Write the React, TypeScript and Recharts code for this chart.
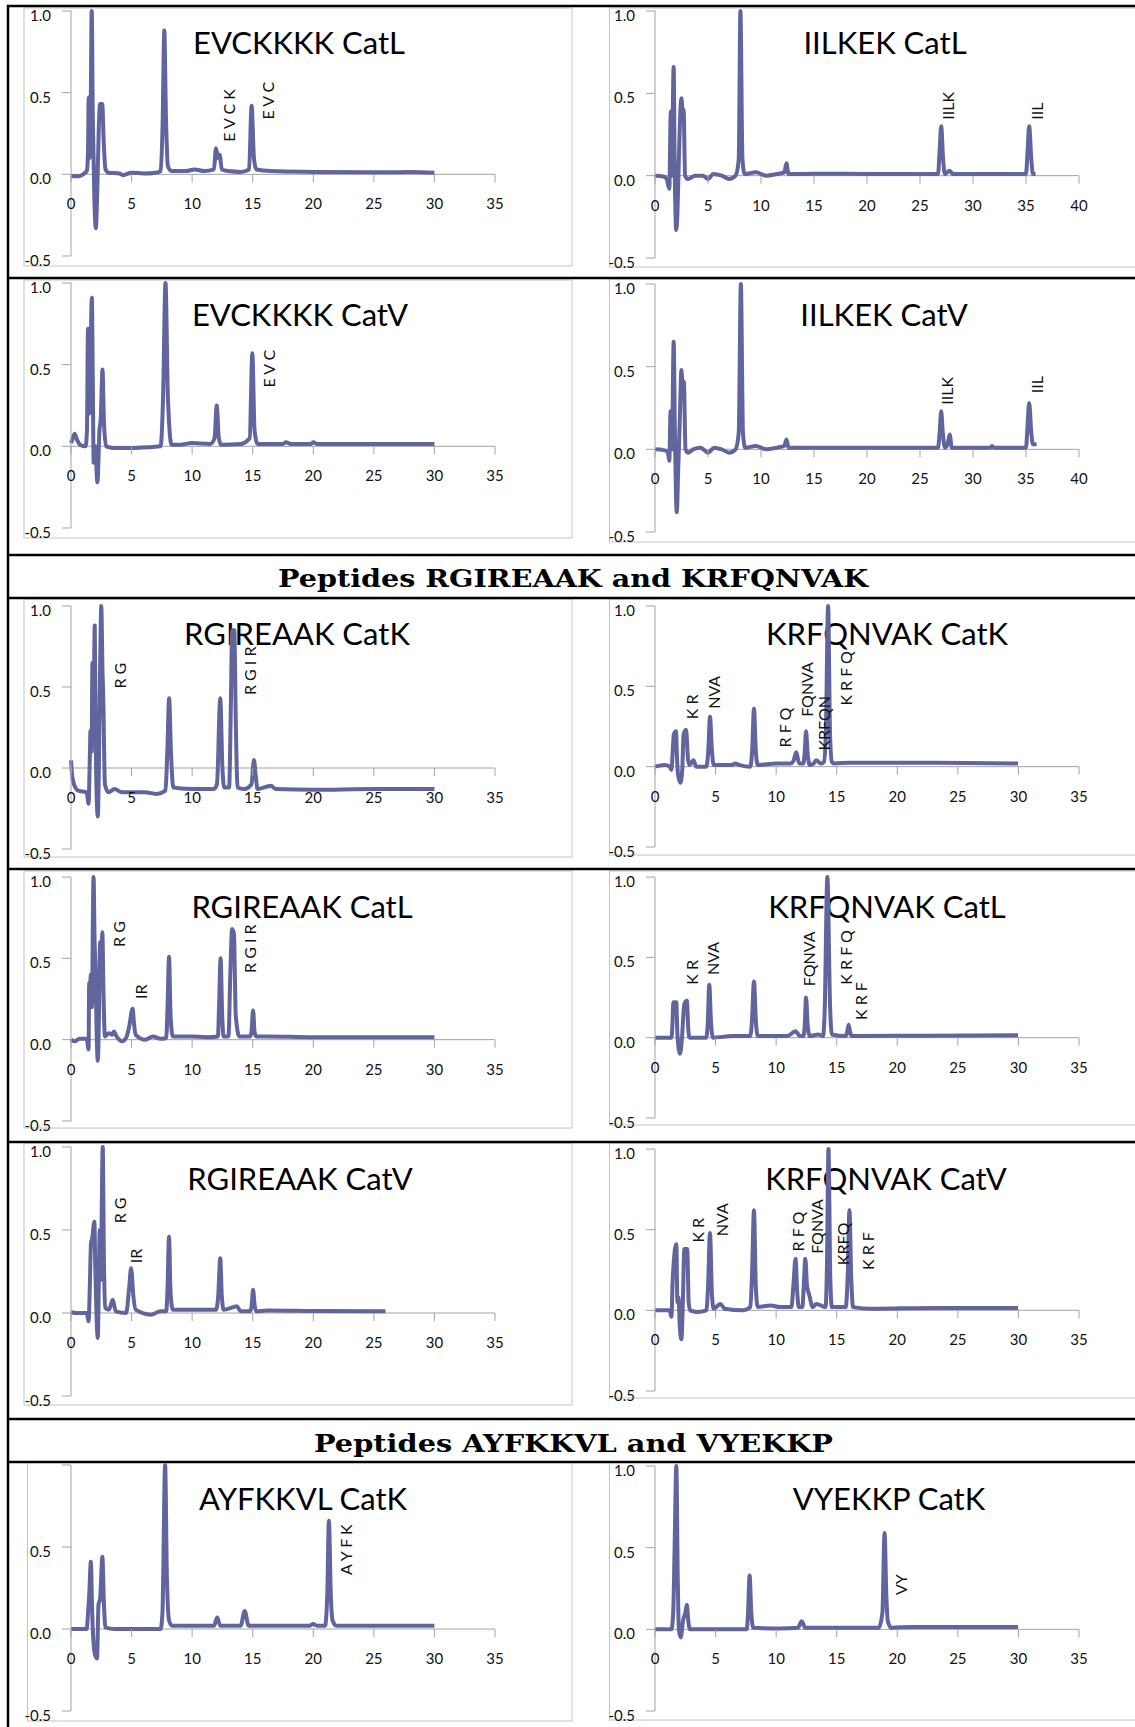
import { LineChart, Line, XAxis, YAxis, ReferenceLine, ReferenceDot } from "recharts"

type Pt = [number, number]
type Tag = [string, number, number]

// retention time (min), normalised absorbance
const evckkkkCatL: Pt[] = [
  [0, -0.01], [0.6, -0.012], [1.0, 0.0], [1.3, 0.02], [1.4, 0.12], [1.46, 0.47], [1.53, 0.1], [1.62, 0.35],
  [1.71, 1.0], [1.8, 0.35], [1.92, -0.12], [2.05, -0.33], [2.17, -0.1], [2.3, 0.3], [2.4, 0.43], [2.58, 0.43],
  [2.7, 0.2], [2.85, 0.03], [3.1, 0.01], [4.0, 0.005], [4.3, -0.005], [5.0, 0.01], [6.0, 0.005], [7.0, 0.01],
  [7.4, 0.02], [7.56, 0.3], [7.7, 0.88], [7.84, 0.35], [8.0, 0.05], [8.3, 0.02], [9.5, 0.02], [10.2, 0.03],
  [11.0, 0.02], [11.8, 0.03], [11.97, 0.16], [12.13, 0.1], [12.27, 0.12], [12.45, 0.03], [13.0, 0.02],
  [14.0, 0.015], [14.7, 0.03], [14.91, 0.42], [15.1, 0.1], [15.3, 0.03], [16.5, 0.02], [20, 0.015],
  [25, 0.012], [28, 0.015], [30, 0.01],
]
const iilkekCatL: Pt[] = [
  [0, 0], [0.8, -0.005], [1.1, -0.02], [1.35, -0.08], [1.49, 0.39], [1.58, 0.0], [1.76, 0.66], [1.85, 0.1],
  [2.0, -0.33], [2.12, -0.22], [2.25, 0.1], [2.49, 0.47], [2.62, 0.38], [2.7, 0.4], [2.84, 0.0], [3.1, -0.02],
  [3.8, 0.0], [4.5, 0.0], [5.0, -0.02], [5.5, 0.01], [6.3, 0.0], [7.0, -0.02], [7.6, 0.0], [7.9, 0.1],
  [8.06, 1.0], [8.25, 0.1], [8.45, 0.01], [9.5, 0.02], [10.5, 0.0], [11.5, 0.01], [12.2, 0.02], [12.4, 0.075],
  [12.6, 0.01], [14, 0.01], [16, 0.012], [20, 0.01], [24, 0.01], [26.7, 0.01], [26.85, 0.15], [27.0, 0.3],
  [27.18, 0.1], [27.35, 0.01], [27.8, 0.03], [28.1, 0.01], [32, 0.01], [35.0, 0.01], [35.15, 0.15],
  [35.3, 0.3], [35.5, 0.1], [35.65, 0.01], [35.9, 0.01],
]
const evckkkkCatV: Pt[] = [
  [0, 0.02], [0.15, 0.05], [0.3, 0.077], [0.5, 0.04], [0.75, 0.01], [1.2, 0.0], [1.32, 0.1], [1.4, 0.72],
  [1.5, 0.2], [1.62, 0.6], [1.72, 0.91], [1.8, 0.4], [1.87, -0.1], [2.0, 0.0], [2.18, -0.22], [2.35, 0.1],
  [2.45, 0.16], [2.6, 0.47], [2.72, 0.15], [2.9, 0.0], [3.5, -0.01], [5, -0.01], [6.5, -0.005], [7.4, 0.0],
  [7.6, 0.3], [7.8, 1.0], [8.0, 0.3], [8.3, 0.01], [9, 0.01], [10, 0.02], [11.5, 0.015], [11.85, 0.05],
  [12.03, 0.25], [12.2, 0.05], [12.4, 0.01], [14, 0.015], [14.75, 0.05], [14.97, 0.57], [15.15, 0.1],
  [15.4, 0.015], [17.5, 0.015], [17.75, 0.025], [18.1, 0.015], [19.8, 0.015], [20.0, 0.025], [20.3, 0.015],
  [25, 0.015], [30, 0.015],
]
const iilkekCatV: Pt[] = [
  [0, 0], [0.8, -0.005], [1.2, -0.015], [1.35, -0.07], [1.47, 0.23], [1.6, 0.0], [1.76, 0.65], [1.88, 0.1],
  [2.05, -0.38], [2.2, -0.1], [2.35, 0.2], [2.49, 0.48], [2.62, 0.38], [2.72, 0.41], [2.88, 0.0], [3.1, -0.02],
  [3.6, 0.0], [4.3, 0.01], [5.0, -0.02], [5.6, 0.01], [6.3, 0.0], [7.0, -0.02], [7.6, 0.0], [7.9, 0.1],
  [8.1, 1.0], [8.3, 0.1], [8.5, 0.01], [9.5, 0.02], [10.5, 0.0], [11.5, 0.01], [12.2, 0.02], [12.4, 0.06],
  [12.6, 0.01], [14, 0.01], [18, 0.01], [22, 0.01], [26.7, 0.01], [26.85, 0.1], [27.0, 0.23], [27.15, 0.1],
  [27.35, 0.01], [27.6, 0.03], [27.8, 0.09], [28.0, 0.01], [31.6, 0.01], [31.8, 0.02], [32, 0.01],
  [35.0, 0.01], [35.15, 0.15], [35.3, 0.28], [35.5, 0.1], [35.65, 0.03], [36.0, 0.03],
]
const rgireaakCatK: Pt[] = [
  [0, 0.047], [0.1, -0.05], [0.28, -0.107], [0.6, -0.14], [1.3, -0.15], [1.45, -0.22], [1.55, 0.05],
  [1.61, 0.23], [1.7, 0.1], [1.77, 0.65], [1.85, 0.3], [1.96, 0.88], [2.05, 0.1], [2.21, -0.3], [2.3, 0.0],
  [2.4, 0.6], [2.5, 1.0], [2.6, 0.6], [2.66, 0.45], [2.8, -0.1], [3.1, -0.15], [3.6, -0.13], [4.2, -0.15],
  [5.0, -0.15], [6.1, -0.15], [7.1, -0.16], [7.8, -0.14], [7.95, 0.1], [8.1, 0.43], [8.25, 0.1], [8.45, -0.12],
  [10.2, -0.13], [11.8, -0.13], [12.05, -0.1], [12.32, 0.43], [12.5, 0.0], [12.65, -0.12], [13.05, -0.12],
  [13.2, 0.4], [13.3, 0.85], [13.48, 0.85], [13.6, 0.3], [13.75, -0.12], [14.3, -0.13], [14.9, -0.1],
  [15.1, 0.05], [15.25, -0.05], [15.4, -0.13], [16.5, -0.11], [16.9, -0.13], [20, -0.135], [25, -0.13],
  [30, -0.13],
]
const krfqnvakCatK: Pt[] = [
  [0, 0.0], [0.8, 0.01], [1.21, 0.0], [1.36, -0.02], [1.48, 0.12], [1.55, 0.2], [1.73, 0.22], [1.82, 0.05],
  [1.9, -0.05], [2.1, -0.1], [2.25, -0.02], [2.36, 0.2], [2.57, 0.23], [2.72, 0.05], [2.85, 0.01],
  [3.18, 0.04], [3.4, 0.0], [4.24, 0.0], [4.4, 0.1], [4.54, 0.31], [4.7, 0.1], [4.84, 0.01], [6.36, 0.01],
  [6.6, 0.02], [7.0, 0.01], [7.87, 0.0], [8.02, 0.1], [8.17, 0.36], [8.32, 0.1], [8.48, 0.01], [10.0, 0.02],
  [11.2, 0.02], [11.45, 0.04], [11.66, 0.09], [11.9, 0.02], [12.25, 0.02], [12.35, 0.08], [12.47, 0.22],
  [12.6, 0.08], [12.78, 0.01], [13.1, 0.02], [13.3, 0.04], [13.7, 0.02], [13.95, 0.03], [14.1, 0.2],
  [14.29, 1.0], [14.45, 0.2], [14.6, 0.03], [14.77, 0.02], [16.05, 0.025], [23.0, 0.025], [29.97, 0.02],
]
const rgireaakCatL: Pt[] = [
  [0, 0.0], [0.28, -0.01], [0.7, 0.005], [1.3, 0.005], [1.45, -0.06], [1.5, 0.35], [1.56, 0.3], [1.64, 0.4],
  [1.72, 0.2], [1.86, 1.0], [1.95, 0.6], [2.02, 0.44], [2.1, 0.1], [2.21, -0.13], [2.32, 0.2], [2.4, 0.6],
  [2.48, 0.5], [2.59, 0.66], [2.68, 0.3], [2.8, 0.02], [3.13, 0.04], [3.4, 0.03], [3.54, 0.05], [3.76, 0.02],
  [4.23, -0.01], [4.6, 0.02], [4.8, 0.08], [5.09, 0.19], [5.2, 0.1], [5.34, 0.03], [6.13, 0.0], [6.76, 0.02],
  [7.4, 0.005], [7.86, 0.01], [7.97, 0.2], [8.09, 0.51], [8.22, 0.15], [8.4, 0.02], [9.9, 0.02], [11.2, 0.015],
  [12.13, 0.02], [12.22, 0.2], [12.35, 0.5], [12.48, 0.15], [12.6, 0.02], [13.0, 0.02], [13.15, 0.4],
  [13.3, 0.68], [13.45, 0.65], [13.6, 0.15], [13.9, 0.02], [14.8, 0.02], [14.9, 0.05], [15.03, 0.18],
  [15.15, 0.05], [15.3, 0.02], [16.2, 0.02], [20, 0.015], [25, 0.015], [30, 0.015],
]
const krfqnvakCatL: Pt[] = [
  [0, 0.0], [1.36, 0.0], [1.45, 0.1], [1.51, 0.22], [1.76, 0.22], [1.85, 0.02], [2.06, -0.1], [2.22, -0.01],
  [2.35, 0.15], [2.42, 0.21], [2.63, 0.23], [2.75, 0.05], [2.85, 0.0], [4.24, 0.0], [4.36, 0.1], [4.48, 0.33],
  [4.62, 0.1], [4.78, 0.0], [6.36, 0.01], [7.87, 0.01], [8.0, 0.1], [8.17, 0.35], [8.33, 0.1], [8.48, 0.01],
  [10.9, 0.01], [11.6, 0.04], [11.96, 0.01], [12.26, 0.01], [12.36, 0.08], [12.47, 0.25], [12.6, 0.08],
  [12.78, 0.01], [13.47, 0.02], [13.87, 0.01], [14.0, 0.15], [14.23, 1.0], [14.45, 0.2], [14.6, 0.02],
  [15.74, 0.01], [15.85, 0.03], [15.98, 0.08], [16.12, 0.03], [16.25, 0.01], [22, 0.012], [29.97, 0.015],
]
const rgireaakCatV: Pt[] = [
  [0, 0.005], [0.5, 0.0], [1.3, 0.0], [1.45, -0.05], [1.55, 0.15], [1.65, 0.42], [1.75, 0.45], [1.93, 0.55],
  [2.0, 0.3], [2.1, 0.0], [2.21, -0.15], [2.3, 0.2], [2.37, 0.5], [2.45, 0.2], [2.62, 1.0], [2.72, 0.3],
  [2.82, 0.03], [3.13, 0.02], [3.44, 0.08], [3.7, 0.01], [4.55, 0.0], [4.8, 0.15], [4.96, 0.27], [5.15, 0.1],
  [5.34, 0.02], [6.6, -0.01], [7.4, 0.01], [7.86, 0.01], [7.97, 0.15], [8.09, 0.46], [8.22, 0.12], [8.4, 0.02],
  [9.9, 0.02], [11.97, 0.02], [12.15, 0.1], [12.32, 0.33], [12.45, 0.1], [12.6, 0.02], [13.7, 0.04],
  [14.0, 0.01], [14.8, 0.01], [14.92, 0.05], [15.03, 0.14], [15.15, 0.05], [15.3, 0.01], [16.2, 0.015],
  [20, 0.012], [25.96, 0.01],
]
const krfqnvakCatV: Pt[] = [
  [0, 0.0], [1.2, 0.0], [1.36, -0.04], [1.45, 0.17], [1.55, 0.3], [1.76, 0.41], [1.85, 0.05], [1.94, 0.08],
  [2.05, -0.1], [2.18, -0.18], [2.3, 0.05], [2.42, 0.38], [2.66, 0.38], [2.78, 0.05], [2.9, 0.0], [3.48, -0.01],
  [4.24, 0.0], [4.38, 0.15], [4.54, 0.48], [4.7, 0.1], [4.84, 0.01], [5.39, 0.04], [5.75, 0.01], [7.27, 0.0],
  [7.87, 0.02], [8.0, 0.2], [8.17, 0.62], [8.32, 0.15], [8.48, 0.02], [9.54, 0.03], [10.3, 0.02],
  [11.26, 0.02], [11.42, 0.15], [11.6, 0.32], [11.75, 0.1], [11.87, 0.02], [12.17, 0.02], [12.28, 0.15],
  [12.41, 0.32], [12.55, 0.15], [12.72, 0.1], [13.02, 0.02], [13.32, 0.04], [14.08, 0.02], [14.2, 0.3],
  [14.32, 1.0], [14.47, 0.2], [14.6, 0.02], [15.74, 0.02], [15.9, 0.2], [16.05, 0.62], [16.2, 0.2],
  [16.35, 0.02], [17.9, 0.01], [23, 0.015], [29.97, 0.015],
]
const ayfkkvlCatK: Pt[] = [
  [0, 0.0], [1.0, 0.0], [1.3, 0.0], [1.39, 0.08], [1.5, 0.2], [1.64, 0.41], [1.75, 0.1], [1.8, 0.0],
  [1.96, -0.15], [2.15, -0.18], [2.27, 0.15], [2.4, 0.18], [2.59, 0.44], [2.72, 0.15], [2.84, 0.01],
  [3.6, 0.0], [7.4, 0.0], [7.55, 0.1], [7.77, 1.0], [7.92, 0.3], [8.1, 0.05], [8.34, 0.02], [10.5, 0.02],
  [11.8, 0.02], [12.07, 0.07], [12.32, 0.02], [14.0, 0.02], [14.34, 0.11], [14.66, 0.02], [16.2, 0.02],
  [19.7, 0.02], [20.0, 0.03], [20.3, 0.02], [20.97, 0.02], [21.15, 0.2], [21.29, 0.66], [21.45, 0.2],
  [21.6, 0.05], [21.9, 0.02], [30, 0.02],
]
const vyekkpCatK: Pt[] = [
  [0, 0.0], [1.36, 0.0], [1.5, 0.1], [1.62, 0.5], [1.76, 1.0], [1.88, 0.3], [1.97, 0.0], [2.12, -0.05],
  [2.33, 0.06], [2.5, 0.1], [2.63, 0.15], [2.75, 0.05], [2.88, 0.0], [3.63, 0.0], [7.57, 0.0], [7.68, 0.1],
  [7.81, 0.33], [7.95, 0.1], [8.11, 0.01], [10.3, 0.005], [11.8, 0.01], [12.11, 0.05], [12.41, 0.01],
  [14.8, 0.01], [18.47, 0.01], [18.77, 0.1], [18.95, 0.59], [19.1, 0.2], [19.22, 0.05], [19.5, 0.01],
  [21.2, 0.015], [29.97, 0.015],
]

// fragment names: [text, time, height where the text starts]
const evckkkkCatLTags: Tag[] = [["E V C K", 12.98, 0.2], ["E V C", 16.24, 0.335]]
const iilkekCatLTags: Tag[] = [["IILK", 27.6, 0.34], ["IIL", 36.0, 0.34]]
const evckkkkCatVTags: Tag[] = [["E V C", 16.33, 0.36]]
const iilkekCatVTags: Tag[] = [["IILK", 27.5, 0.27], ["IIL", 36.0, 0.34]]
const rgireaakCatKTags: Tag[] = [["R G", 4.0, 0.49], ["R G I R", 14.7, 0.45]]
const krfqnvakCatKTags: Tag[] = [
  ["K R", 3.03, 0.295], ["NVA", 4.84, 0.36], ["R F Q", 10.7, 0.12],
  ["FQNVA", 12.47, 0.31], ["KRFQN", 13.9, 0.1], ["K R F Q", 15.7, 0.38],
]
const rgireaakCatLTags: Tag[] = [["R G", 3.9, 0.57], ["IR", 5.75, 0.25], ["R G I R", 14.7, 0.41]]
const krfqnvakCatLTags: Tag[] = [
  ["K R", 3.03, 0.33], ["NVA", 4.78, 0.39], ["FQNVA", 12.65, 0.32], ["K R F Q", 15.74, 0.33], ["K R F", 17.0, 0.11],
]
const rgireaakCatVTags: Tag[] = [["R G", 3.98, 0.54], ["IR", 5.34, 0.3]]
const krfqnvakCatVTags: Tag[] = [
  ["K R", 3.48, 0.42], ["NVA", 5.45, 0.46], ["R F Q", 11.75, 0.365],
  ["FQNVA", 13.32, 0.35], ["KRFQ", 15.44, 0.28], ["K R F", 17.5, 0.25],
]
const ayfkkvlCatKTags: Tag[] = [["A Y F K", 22.65, 0.33]]
const vyekkpCatKTags: Tag[] = [["VY", 20.3, 0.21]]

const xTicks35 = [0, 5, 10, 15, 20, 25, 30, 35]
const xTicks40 = [0, 5, 10, 15, 20, 25, 30, 35, 40]
const yTicks = [-0.5, 0, 0.5, 1]

const sectionTitles = ["Peptides RGIREAAK and KRFQNVAK", "Peptides AYFKKVL and VYEKKP"]

const LINE = "#62649e"
const AXIS = "#a3a3a3"
const BOX = "#c4c4c4"
const FONT = "Lato, 'Open Sans', sans-serif"

// plot-area extents of the two columns
const colL = { left: 71, right: 495, boxL: 24, boxR: 572 }
const colR = { left: 655.3, right: 1079.3, boxL: 609.5, boxR: 1160 }

const panels = [
  { title: "EVCKKKK CatL", data: evckkkkCatL, tags: evckkkkCatLTags, ticks: xTicks35, col: colL, top: 11, bottom: 256, tx: 299, ty: 54, box: [8, 266] },
  { title: "IILKEK CatL", data: iilkekCatL, tags: iilkekCatLTags, ticks: xTicks40, col: colR, top: 11, bottom: 258, tx: 885, ty: 54, box: [8, 267] },
  { title: "EVCKKKK CatV", data: evckkkkCatV, tags: evckkkkCatVTags, ticks: xTicks35, col: colL, top: 283, bottom: 528, tx: 300, ty: 326, box: [280, 538] },
  { title: "IILKEK CatV", data: iilkekCatV, tags: iilkekCatVTags, ticks: xTicks40, col: colR, top: 284, bottom: 532, tx: 884, ty: 326, box: [279, 542] },
  { title: "RGIREAAK CatK", data: rgireaakCatK, tags: rgireaakCatKTags, ticks: xTicks35, col: colL, top: 606, bottom: 849, tx: 297, ty: 645, box: [599, 857] },
  { title: "KRFQNVAK CatK", data: krfqnvakCatK, tags: krfqnvakCatKTags, ticks: xTicks35, col: colR, top: 606, bottom: 847, tx: 887, ty: 645, box: [599, 855] },
  { title: "RGIREAAK CatL", data: rgireaakCatL, tags: rgireaakCatLTags, ticks: xTicks35, col: colL, top: 877, bottom: 1121, tx: 302, ty: 918, box: [871, 1128] },
  { title: "KRFQNVAK CatL", data: krfqnvakCatL, tags: krfqnvakCatLTags, ticks: xTicks35, col: colR, top: 877, bottom: 1118, tx: 887, ty: 918, box: [871, 1125] },
  { title: "RGIREAAK CatV", data: rgireaakCatV, tags: rgireaakCatVTags, ticks: xTicks35, col: colL, top: 1147, bottom: 1396, tx: 300, ty: 1190, box: [1143, 1405] },
  { title: "KRFQNVAK CatV", data: krfqnvakCatV, tags: krfqnvakCatVTags, ticks: xTicks35, col: colR, top: 1149, bottom: 1391, tx: 886, ty: 1190, box: [1143, 1398] },
  { title: "AYFKKVL CatK", data: ayfkkvlCatK, tags: ayfkkvlCatKTags, ticks: xTicks35, col: colL, top: 1465, bottom: 1711, tx: 303, ty: 1510, box: [1462, 1721], hideTop: true },
  { title: "VYEKKP CatK", data: vyekkpCatK, tags: vyekkpCatKTags, ticks: xTicks35, col: colR, top: 1466, bottom: 1711, tx: 889, ty: 1510, box: [1462, 1720] },
]

const YW = 60
const MT = 10
const MR = 20
const MB = 50

const Panel = ({ p }: { p: any }) => {
  const rows = p.data.map(([t, v]: Pt) => ({ t, v }))
  const xMax = p.ticks[p.ticks.length - 1]
  const width = p.col.right - p.col.left + YW + MR
  const height = p.bottom - p.top + MT + MB

  const yTick = (props: any) => {
    const v = props.payload.value
    if (p.hideTop && v === 1) return <g />
    return (
      <text x={props.x} y={props.y + 4} textAnchor="end" dominantBaseline="central" fontSize={15} fontFamily={FONT} fill="#111">
        {v.toFixed(1)}
      </text>
    )
  }

  return (
    <div style={{ position: "absolute", left: p.col.left - YW, top: p.top - MT }}>
      <LineChart width={width} height={height} data={rows} margin={{ top: MT, right: MR, bottom: MB, left: 0 }}>
        <XAxis dataKey="t" type="number" domain={[0, xMax]} hide />
        <YAxis
          type="number"
          domain={[-0.5, 1]}
          ticks={yTicks}
          interval={0}
          width={YW}
          axisLine={{ stroke: AXIS }}
          tickLine={{ stroke: AXIS }}
          tickSize={9}
          tickMargin={11}
          tick={yTick}
        />
        <ReferenceLine y={0} stroke={AXIS} />
        {p.ticks.map((t: number) => (
          <ReferenceDot
            key={"x" + t}
            x={t}
            y={0}
            r={0}
            shape={(s: any) => (
              <g>
                <line x1={s.cx} y1={s.cy} x2={s.cx} y2={s.cy + 8} stroke={AXIS} />
                <text x={s.cx} y={s.cy + 29} textAnchor="middle" dominantBaseline="central" fontSize={15} fontFamily={FONT} fill="#111">
                  {t}
                </text>
              </g>
            )}
          />
        ))}
        <Line
          type="monotone"
          dataKey="v"
          stroke={LINE}
          strokeWidth={4}
          strokeLinejoin="round"
          dot={false}
          activeDot={false}
          isAnimationActive={false}
        />
        {p.tags.map(([text, t, y]: Tag) => (
          <ReferenceDot
            key={text}
            x={t}
            y={y}
            r={0}
            shape={(s: any) => (
              <text
                x={s.cx}
                y={s.cy}
                transform={`rotate(-90 ${s.cx} ${s.cy})`}
                dominantBaseline="central"
                fontSize={16}
                fontFamily={FONT}
                fill="#111"
              >
                {text}
              </text>
            )}
          />
        ))}
      </LineChart>
    </div>
  )
}

export default function App() {
  const rules = [6, 278, 555, 598, 869, 1142, 1419, 1462]
  return (
    <div style={{ position: "absolute", left: 0, top: 0, width: 1135, height: 1727, overflow: "hidden", background: "#fff" }}>
      <svg width={1135} height={1727} style={{ position: "absolute", left: 0, top: 0 }}>
        {panels.map((p, i) => (
          <rect
            key={"b" + i}
            x={i === 10 ? 27.5 : p.col.boxL}
            y={p.box[0]}
            width={p.col.boxR - (i === 10 ? 27.5 : p.col.boxL)}
            height={p.box[1] - p.box[0]}
            fill="none"
            stroke={BOX}
          />
        ))}
        {rules.map((y) => (
          <line key={"r" + y} x1={7} x2={1135} y1={y} y2={y} stroke="#000" strokeWidth={2.5} />
        ))}
        <line x1={8} x2={8} y1={5} y2={1727} stroke="#000" strokeWidth={2.5} />
        <text x={573} y={587} textAnchor="middle" fontFamily="'DejaVu Serif', serif" fontWeight="bold" fontSize={25} textLength={590} lengthAdjust="spacingAndGlyphs">
          {sectionTitles[0]}
        </text>
        <text x={573.5} y={1452} textAnchor="middle" fontFamily="'DejaVu Serif', serif" fontWeight="bold" fontSize={25} textLength={519} lengthAdjust="spacingAndGlyphs">
          {sectionTitles[1]}
        </text>
        {panels.map((p, i) => (
          <text key={"t" + i} x={p.tx} y={p.ty} textAnchor="middle" fontFamily={FONT} fontSize={31} fill="#000">
            {p.title}
          </text>
        ))}
      </svg>
      {panels.map((p, i) => (
        <Panel key={i} p={p} />
      ))}
    </div>
  )
}
